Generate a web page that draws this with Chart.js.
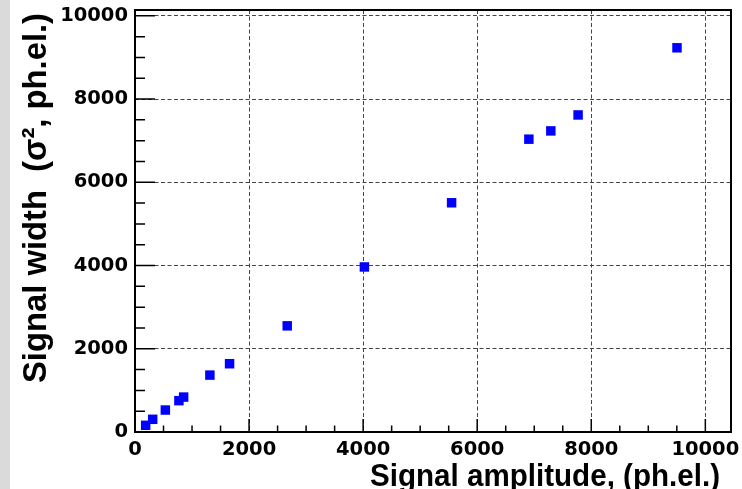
<!DOCTYPE html>
<html>
<head>
<meta charset="utf-8">
<script src="https://cdn.jsdelivr.net/npm/chart.js@4/dist/chart.umd.min.js"></script>
<style>
  html, body { margin: 0; padding: 0; background: #fff; }
  #wrap { width: 742px; height: 489px; }
</style>
</head>
<body>
<div id="wrap"><canvas id="chart" width="742" height="489"></canvas></div>
<script>
// values
const amplitude = [187, 310, 532, 770, 853, 1313, 1658, 2669, 4022, 5551, 6906, 7291, 7769, 9503];
const sigma2 = [161, 305, 528, 753, 839, 1367, 1640, 2551, 3966, 5508, 7036, 7235, 7618, 9232];

const xTicks = [0, 2000, 4000, 6000, 8000, 10000];
const yTicks = [0, 2000, 4000, 6000, 8000, 10000];
const xRange = [0, 10450];
const yRange = [0, 10140];
const minorStep = 500;

const xTitle = 'Signal amplitude, (ph.el.)';
const yTitle = 'Signal width  (\u03c3\u00b2, ph.el.)';

const tickFont = { family: '"DejaVu Sans", sans-serif', size: 19.5, weight: 'bold' };

// ROOT-like frame: inward ticks with minor marks, thick frame, titles
const rootFrame = {
  id: 'rootFrame',
  beforeDraw(chart) {
    const ctx = chart.ctx;
    ctx.save();
    ctx.fillStyle = '#ffffff';
    ctx.fillRect(0, 0, chart.width, chart.height);
    ctx.fillStyle = '#dadada';
    ctx.fillRect(0, 0, 10, chart.height);
    ctx.restore();
  },
  beforeDatasetsDraw(chart) {
    const { ctx, chartArea: a, scales: { x, y } } = chart;
    ctx.save();
    ctx.strokeStyle = '#000';
    ctx.lineWidth = 1.5;
    ctx.beginPath();
    for (let v = xRange[0]; v <= xRange[1]; v += minorStep) {
      const px = x.getPixelForValue(v);
      const len = xTicks.includes(v) ? 13 : 6.5;
      ctx.moveTo(px, a.bottom);
      ctx.lineTo(px, a.bottom - len);
    }
    for (let v = yRange[0]; v <= yRange[1]; v += minorStep) {
      const py = y.getPixelForValue(v);
      const len = yTicks.includes(v) ? 20 : 10;
      ctx.moveTo(a.left, py);
      ctx.lineTo(a.left + len, py);
    }
    ctx.stroke();
    ctx.lineWidth = 2;
    ctx.strokeRect(a.left, a.top, a.right - a.left, a.bottom - a.top);
    ctx.restore();
  },
  afterDraw(chart) {
    const ctx = chart.ctx;
    ctx.save();
    ctx.fillStyle = '#000';
    ctx.font = 'bold 32px "Liberation Sans", Arial, sans-serif';
    ctx.textBaseline = 'alphabetic';
    ctx.textAlign = 'right';
    ctx.fillText(xTitle, 720, 486, 350);

    ctx.font = 'bold 33px "Liberation Sans", Arial, sans-serif';
    ctx.translate(46, 383);
    ctx.rotate(-Math.PI / 2);
    ctx.textAlign = 'left';
    ctx.fillText(yTitle, 0, 0, 370);
    ctx.restore();
  }
};

const ctx = document.getElementById('chart').getContext('2d');
new Chart(ctx, {
  type: 'scatter',
  data: {
    datasets: [{
      data: amplitude.map((v, i) => ({ x: v, y: sigma2[i] })),
      backgroundColor: '#0000ff',
      borderWidth: 0,
      pointStyle: 'rect',
      pointRadius: 6.7,
      pointHoverRadius: 6.7
    }]
  },
  options: {
    responsive: false,
    animation: false,
    layout: { padding: { left: 0, right: 11, top: 10, bottom: 0 } },
    plugins: {
      legend: { display: false },
      tooltip: { enabled: false }
    },
    scales: {
      x: {
        type: 'linear',
        min: xRange[0],
        max: xRange[1],
        afterBuildTicks: s => { s.ticks = xTicks.map(v => ({ value: v })); },
        afterFit: s => {
          s.height = 57;
          s.paddingLeft = 0;
          s.paddingRight = 0;
        },
        grid: { color: '#444', lineWidth: 1, drawTicks: false },
        border: { display: false, dash: [4, 2.5] },
        ticks: {
          color: '#000', font: tickFont, padding: 6, maxRotation: 0, autoSkip: false,
          callback: v => String(v)
        }
      },
      y: {
        type: 'linear',
        min: yRange[0],
        max: yRange[1],
        afterBuildTicks: s => { s.ticks = yTicks.map(v => ({ value: v })); },
        afterFit: s => {
          s.width = 135;
          s.paddingTop = 0;
          s.paddingBottom = 0;
        },
        grid: { color: '#444', lineWidth: 1, drawTicks: false },
        border: { display: false, dash: [4, 2.5] },
        ticks: {
          color: '#000', font: tickFont, padding: 7, autoSkip: false,
          callback: v => String(v)
        }
      }
    }
  },
  plugins: [rootFrame]
});
</script>
</body>
</html>
